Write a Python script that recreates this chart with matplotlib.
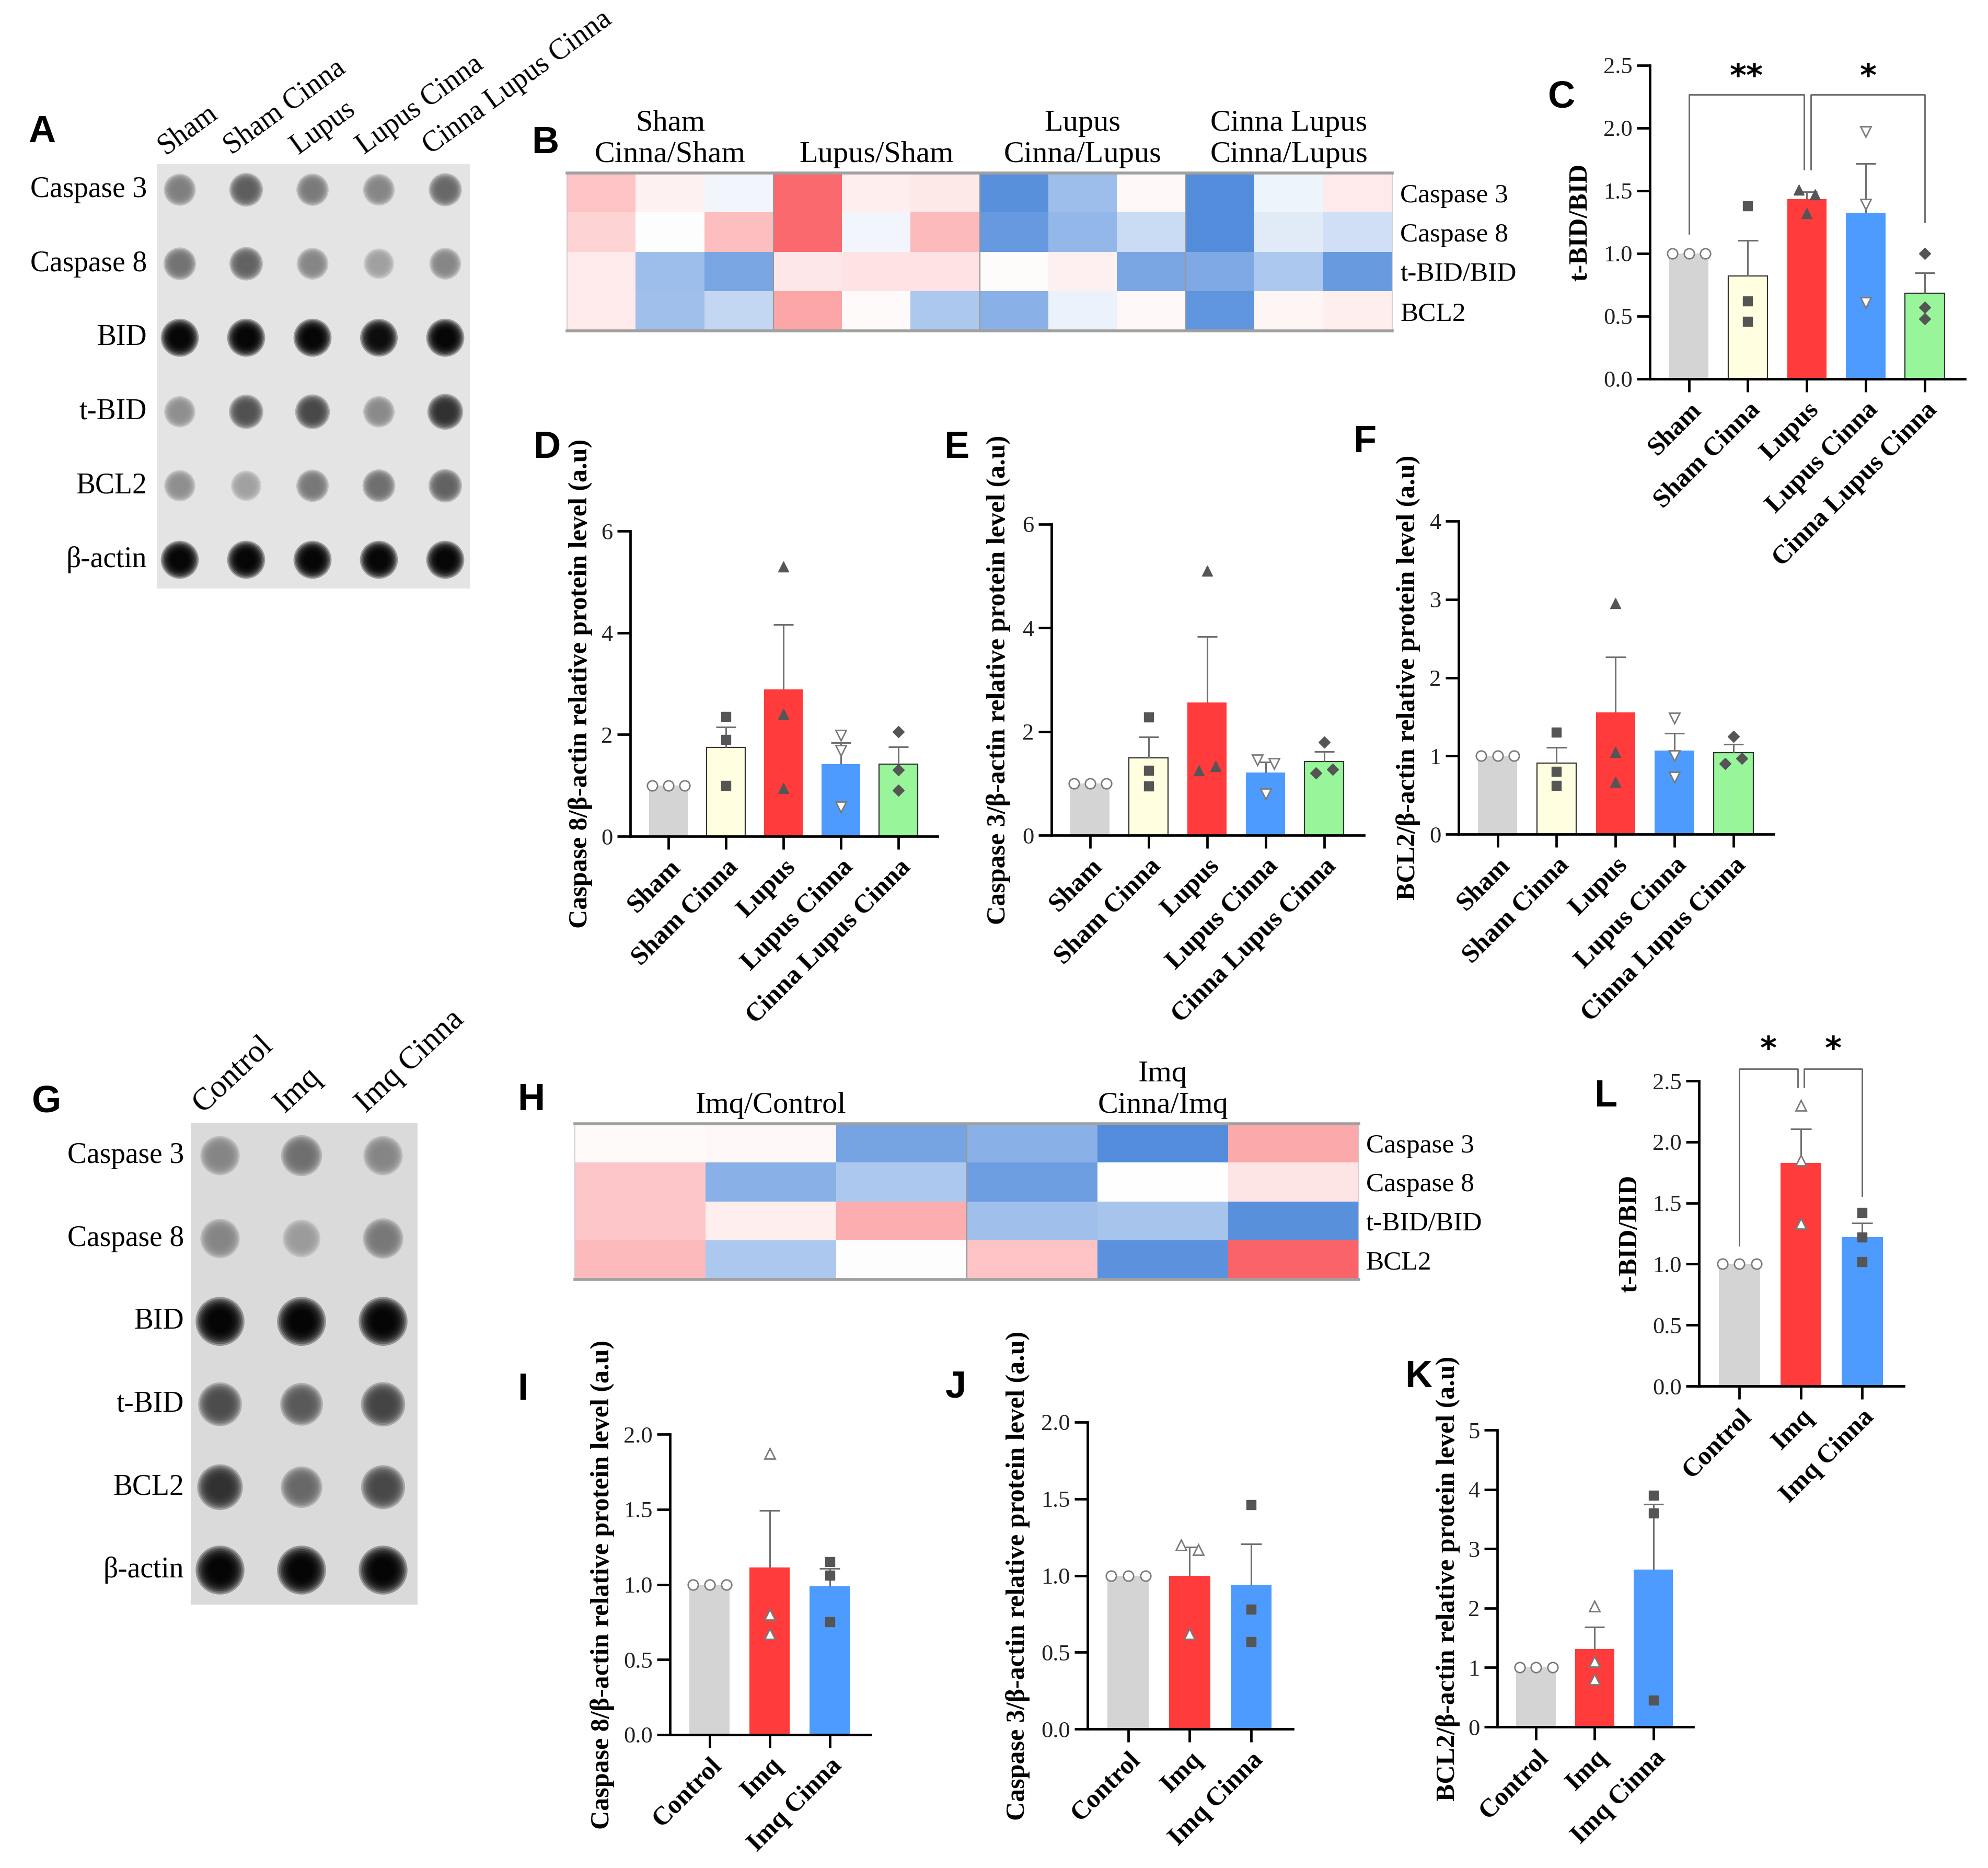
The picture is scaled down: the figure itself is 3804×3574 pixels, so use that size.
import matplotlib
matplotlib.use("Agg")
import matplotlib.pyplot as plt
import numpy as np
from matplotlib.colors import LinearSegmentedColormap
from matplotlib.patches import Ellipse
from matplotlib.transforms import blended_transform_factory

W, H = 3805, 3574

# ---------------- data ----------------
lupus_groups = ["Sham", "Sham Cinna", "Lupus", "Lupus Cinna", "Cinna Lupus Cinna"]
imq_groups = ["Control", "Imq", "Imq Cinna"]
blot_rows = ["Caspase 3", "Caspase 8", "BID", "t-BID", "BCL2", "β-actin"]

# dot blot spot darkness (0 = background, 1 = black), rows x lanes
blot_a = [[0.45, 0.60, 0.47, 0.42, 0.55],
          [0.50, 0.58, 0.42, 0.30, 0.42],
          [1.00, 1.00, 1.00, 0.97, 1.00],
          [0.38, 0.66, 0.70, 0.40, 0.80],
          [0.38, 0.30, 0.48, 0.52, 0.58],
          [1.00, 1.00, 1.00, 1.00, 1.00]]
blot_g = [[0.42, 0.52, 0.42],
          [0.42, 0.32, 0.48],
          [1.00, 1.00, 1.00],
          [0.68, 0.62, 0.72],
          [0.80, 0.55, 0.70],
          [1.00, 1.00, 1.00]]

heat_rows = ["Caspase 3", "Caspase 8", "t-BID/BID", "BCL2"]
heat_b_groups = ["Sham\nCinna/Sham", "Lupus/Sham", "Lupus\nCinna/Lupus", "Cinna Lupus\nCinna/Lupus"]
heat_b = [[0.35, 0.08, -0.07, 0.88, 0.10, 0.13, -0.85, -0.50, 0.04, -0.88, -0.08, 0.12],
          [0.25, 0.01, 0.38, 0.88, -0.07, 0.40, -0.78, -0.55, -0.27, -0.88, -0.15, -0.24],
          [0.12, -0.50, -0.68, 0.14, 0.16, 0.16, 0.02, 0.09, -0.68, -0.65, -0.42, -0.77],
          [0.12, -0.48, -0.30, 0.52, 0.03, -0.42, -0.60, -0.10, 0.04, -0.82, 0.06, 0.10]]
heat_h_groups = ["Imq/Control", "Imq\nCinna/Imq"]
heat_h = [[0.03, 0.04, -0.70, -0.60, -0.88, 0.50],
          [0.33, -0.60, -0.42, -0.75, 0.00, 0.15],
          [0.33, 0.10, 0.48, -0.48, -0.45, -0.85],
          [0.40, -0.42, 0.01, 0.35, -0.83, 0.90]]

# individual values per group
c_tbid = [[1, 1, 1], [1.38, 0.62, 0.46], [1.51, 1.47, 1.32], [1.97, 1.39, 0.61], [1.0, 0.57, 0.48]]
d_casp8 = [[1, 1, 1], [2.35, 1.9, 1.0], [5.3, 2.4, 0.95], [1.98, 1.68, 0.58], [2.05, 1.3, 0.9]]
e_casp3 = [[1, 1, 1], [2.28, 1.25, 0.95], [5.1, 1.25, 1.33], [1.45, 1.38, 0.8], [1.8, 1.2, 1.27]]
f_bcl2 = [[1, 1, 1], [1.3, 0.8, 0.62], [2.95, 1.05, 0.67], [1.48, 1.0, 0.73], [1.25, 0.9, 0.97]]
l_tbid = [[1, 1, 1], [2.3, 1.85, 1.33], [1.42, 1.22, 1.02]]
i_casp8 = [[1, 1, 1], [1.87, 0.8, 0.67], [1.15, 1.06, 0.75]]
j_casp3 = [[1, 1, 1], [1.2, 1.17, 0.62], [1.46, 0.78, 0.57]]
k_bcl2 = [[1, 1, 1], [2.03, 1.1, 0.8], [3.9, 3.6, 0.45]]

lupus_colors = ["#d4d4d4", "#fffee0", "#ff3b3b", "#4d9bff", "#98f59a"]
lupus_edges = [None, "#333333", None, None, "#333333"]
lupus_marks = [("o", False), ("s", True), ("^", True), ("v", False), ("D", True)]
imq_colors = ["#d4d4d4", "#ff3b3b", "#4d9bff"]
imq_edges = [None, None, None]
imq_marks = [("o", False), ("^", False), ("s", True)]

SERIF = "Liberation Serif"
SANS = "Liberation Sans"
ERR = "#707070"

fig = plt.figure(figsize=(W / 100, H / 100), dpi=100)
fig.patch.set_facecolor("white")


def add_ax(x0, y0, x1, y1):
    return fig.add_axes([x0 / W, 1 - y1 / H, (x1 - x0) / W, (y1 - y0) / H])


def ftext(x, y, s, **kw):
    fig.text(x / W, 1 - y / H, s, **kw)


def spread(vals, thr, step=0.28):
    order = sorted(range(len(vals)), key=lambda i: vals[i])
    clusters = [[order[0]]]
    for i in order[1:]:
        if vals[i] - vals[clusters[-1][-1]] < thr:
            clusters[-1].append(i)
        else:
            clusters.append([i])
    off = [0.0] * len(vals)
    for cl in clusters:
        cl = sorted(cl)
        for k, i in enumerate(cl):
            off[i] = (k - (len(cl) - 1) / 2) * step
    return off


msize = {"o": 14, "s": 13, "^": 15, "v": 15, "D": 11}


def bar_panel(box, groups, pts, colors, edges, marks, ymax, yticks, fmt, ylabel, ylabel_x):
    ax = add_ax(*box)
    ax.patch.set_visible(False)
    n = len(groups)
    for i in range(n):
        vals = pts[i]
        m = np.mean(vals)
        se = np.std(vals, ddof=1) / np.sqrt(len(vals))
        ax.bar(i, m, width=0.67, color=colors[i],
               edgecolor=edges[i] if edges[i] else "none", linewidth=1.6, zorder=2)
        if se > 0:
            ax.vlines(i, m, m + se, color=ERR, lw=2.2, zorder=3)
            ax.hlines(m + se, i - 0.17, i + 0.17, color=ERR, lw=2.2, zorder=3)
        mk, filled = marks[i]
        for v, o in zip(vals, spread(vals, 0.035 * ymax)):
            if filled:
                ax.plot(i + o, v, marker=mk, ms=msize[mk], mfc="#555555", mec="#555555",
                        ls="none", zorder=4, clip_on=False)
            else:
                ax.plot(i + o, v, marker=mk, ms=msize[mk], mfc="white", mec="#7a7a7a",
                        mew=2.0, ls="none", zorder=4, clip_on=False)
    ax.set_xlim(-0.66, n - 0.32)
    ax.set_ylim(0, ymax)
    for s in ["top", "right"]:
        ax.spines[s].set_visible(False)
    for s in ["left", "bottom"]:
        ax.spines[s].set_linewidth(3.4)
    ax.tick_params(direction="out", length=18, width=3.4)
    ax.tick_params(axis="y", pad=6)
    ax.tick_params(axis="x", pad=8)
    ax.set_xticks(range(n))
    ax.set_xticklabels(groups, rotation=45, ha="right", rotation_mode="anchor",
                       fontfamily=SERIF, fontweight="bold", fontsize=36)
    ax.set_yticks(yticks)
    ax.set_yticklabels([fmt % t for t in yticks], fontfamily=SERIF, fontsize=32, color="#222222")
    tr = blended_transform_factory(fig.transFigure, ax.transAxes)
    ax.text(ylabel_x / W, 0.5, ylabel, transform=tr, rotation=90, ha="center", va="center",
            fontfamily=SERIF, fontweight="bold", fontsize=36)
    return ax


def bracket(ax, x0, x1, y, y0, y1, label, ly):
    ax.plot([x0, x0, x1, x1], [y0, y, y, y1], color="#666666", lw=2, clip_on=False, zorder=5)
    ax.text((x0 + x1) / 2, ly, label, ha="center", va="center", fontfamily="DejaVu Sans",
            fontweight="bold", fontsize=44, clip_on=False)


def blot_panel(box, dark, lane0, dx, row0, dy, bg, row_x, row_fs, col_fs, rot, col_dx, col_y, lanes, rbase, rgain):
    ax = add_ax(*box)
    x0, y0, x1, y1 = box
    ax.set_xlim((x0 - lane0) / dx, (x1 - lane0) / dx)
    ax.set_ylim((y1 - row0) / dy, (y0 - row0) / dy)
    ax.set_facecolor(bg)
    ax.set_xticks([])
    ax.set_yticks([])
    for s in ax.spines.values():
        s.set_visible(False)
    bgv = 0.89
    for r, row in enumerate(dark):
        for c, d in enumerate(row):
            g = bgv * (1 - d)
            rad = rbase + rgain * d
            # soft spot edge: stacked translucent discs
            for f in np.linspace(1.3, 0.55, 9):
                ax.add_patch(Ellipse((c, r), 2 * rad * f / dx, 2 * rad * f / dy,
                                     facecolor=(g, g, g), edgecolor="none", alpha=0.32))
    tr = blended_transform_factory(fig.transFigure, ax.transData)
    for r, name in enumerate(blot_rows):
        ax.text(row_x / W, r, name, transform=tr, ha="right", va="center",
                fontfamily=SERIF, fontsize=row_fs)
    for c, name in enumerate(lanes):
        ftext(lane0 + c * dx + col_dx, col_y, name, rotation=rot, ha="left", va="bottom",
              rotation_mode="anchor", fontfamily=SERIF, fontsize=col_fs)
    return ax


cmap = LinearSegmentedColormap.from_list("bwr2", ["#3c7dd7", "#ffffff", "#fa555a"])


def heat_panel(box, vals, groups, head_bottom, pad):
    ax = add_ax(*box)
    v = np.array(vals)
    nr, nc = v.shape
    ax.imshow(v, cmap=cmap, vmin=-1, vmax=1, aspect="auto", interpolation="nearest",
              extent=(0, nc, nr, 0))
    ax.set_xlim(0, nc)
    ax.set_ylim(nr, 0)
    ax.set_xticks([])
    ax.yaxis.tick_right()
    ax.set_yticks(np.arange(nr) + 0.5)
    ax.set_yticklabels(heat_rows, fontfamily=SERIF, fontsize=37)
    ax.tick_params(axis="y", length=0, pad=pad)
    for s in ["top", "bottom"]:
        ax.spines[s].set_color("#a0a0a0")
        ax.spines[s].set_linewidth(4)
    for s in ["left", "right"]:
        ax.spines[s].set_color("#c8c8c8")
        ax.spines[s].set_linewidth(1.2)
    gs = nc // len(groups)
    for k in range(1, len(groups)):
        ax.axvline(k * gs, color="#9a9a9a", lw=1.6)
    tr = blended_transform_factory(ax.transData, fig.transFigure)
    for k, g in enumerate(groups):
        ax.text((k + 0.5) * gs, 1 - head_bottom / H, g, transform=tr, ha="center", va="bottom",
                multialignment="center", linespacing=1.2, fontfamily=SERIF, fontsize=42)
    return ax


# ---------------- panels ----------------
blot_panel((300, 314, 899, 1126), blot_a, 344, 127, 363, 141.6, "#e4e4e4",
           281, 40, 40, 36, -21, 306, lupus_groups, 20, 8)
blot_panel((365, 2149, 799, 3070), blot_g, 421, 156, 2211, 158.6, "#dadada",
           352, 40, 44, 43, -24, 2140, imq_groups, 24, 12)

heat_panel((1085, 331, 2664, 633), heat_b, heat_b_groups, 322, 11)
heat_panel((1100, 2150, 2600, 2448), heat_h, heat_h_groups, 2141, 10)

casp8_lbl = "Caspase 8/β-actin relative protein level (a.u)"
casp3_lbl = "Caspase 3/β-actin relative protein level (a.u)"
bcl2_lbl = "BCL2/β-actin relative protein level (a.u)"

axc = bar_panel((3157, 125, 3760, 725), lupus_groups, c_tbid, lupus_colors, lupus_edges, lupus_marks,
                2.5, [0, 0.5, 1.0, 1.5, 2.0, 2.5], "%.1f", "t-BID/BID", 3024)
bracket(axc, 0, 1.95, 2.266, 1.16, 1.67, "**", 2.40)
bracket(axc, 2.07, 4, 2.266, 1.67, 1.25, "*", 2.40)

bar_panel((1206, 1016, 1794, 1600), lupus_groups, d_casp8, lupus_colors, lupus_edges, lupus_marks,
          6, [0, 2, 4, 6], "%d", casp8_lbl, 1111)
bar_panel((2012, 1003, 2610, 1598), lupus_groups, e_casp3, lupus_colors, lupus_edges, lupus_marks,
          6, [0, 2, 4, 6], "%d", casp3_lbl, 1911)
bar_panel((2791, 997, 3394, 1596), lupus_groups, f_bcl2, lupus_colors, lupus_edges, lupus_marks,
          4, [0, 1, 2, 3, 4], "%d", bcl2_lbl, 2695)

axl = bar_panel((3251, 2068, 3643, 2652), imq_groups, l_tbid, imq_colors, imq_edges, imq_marks,
                2.5, [0, 0.5, 1.0, 1.5, 2.0, 2.5], "%.1f", "t-BID/BID", 3119)
bracket(axl, 0, 0.95, 2.60, 1.15, 2.45, "*", 2.75)
bracket(axl, 1.05, 2, 2.60, 2.45, 1.56, "*", 2.75)

bar_panel((1282, 2744, 1666, 3319), imq_groups, i_casp8, imq_colors, imq_edges, imq_marks,
          2, [0, 0.5, 1.0, 1.5, 2.0], "%.1f", casp8_lbl, 1153)
bar_panel((2081, 2721, 2474, 3308), imq_groups, j_casp3, imq_colors, imq_edges, imq_marks,
          2, [0, 0.5, 1.0, 1.5, 2.0], "%.1f", casp3_lbl, 1948)
bar_panel((2865, 2736, 3240, 3304), imq_groups, k_bcl2, imq_colors, imq_edges, imq_marks,
          5, [0, 1, 2, 3, 4, 5], "%d", bcl2_lbl, 2771)

# panel letters
letters = {"A": (80, 253), "B": (1043, 274), "C": (2988, 187), "D": (1046, 857),
           "E": (1830, 857), "F": (2611, 846), "G": (89, 2109), "H": (1016, 2105),
           "I": (1000, 2659), "J": (1829, 2654), "K": (2714, 2635), "L": (3072, 2098)}
for k, (x, y) in letters.items():
    ftext(x, y, k, ha="center", va="center", fontfamily=SANS, fontweight="bold", fontsize=52)

fig.savefig("out.png", dpi=100, facecolor="white")
